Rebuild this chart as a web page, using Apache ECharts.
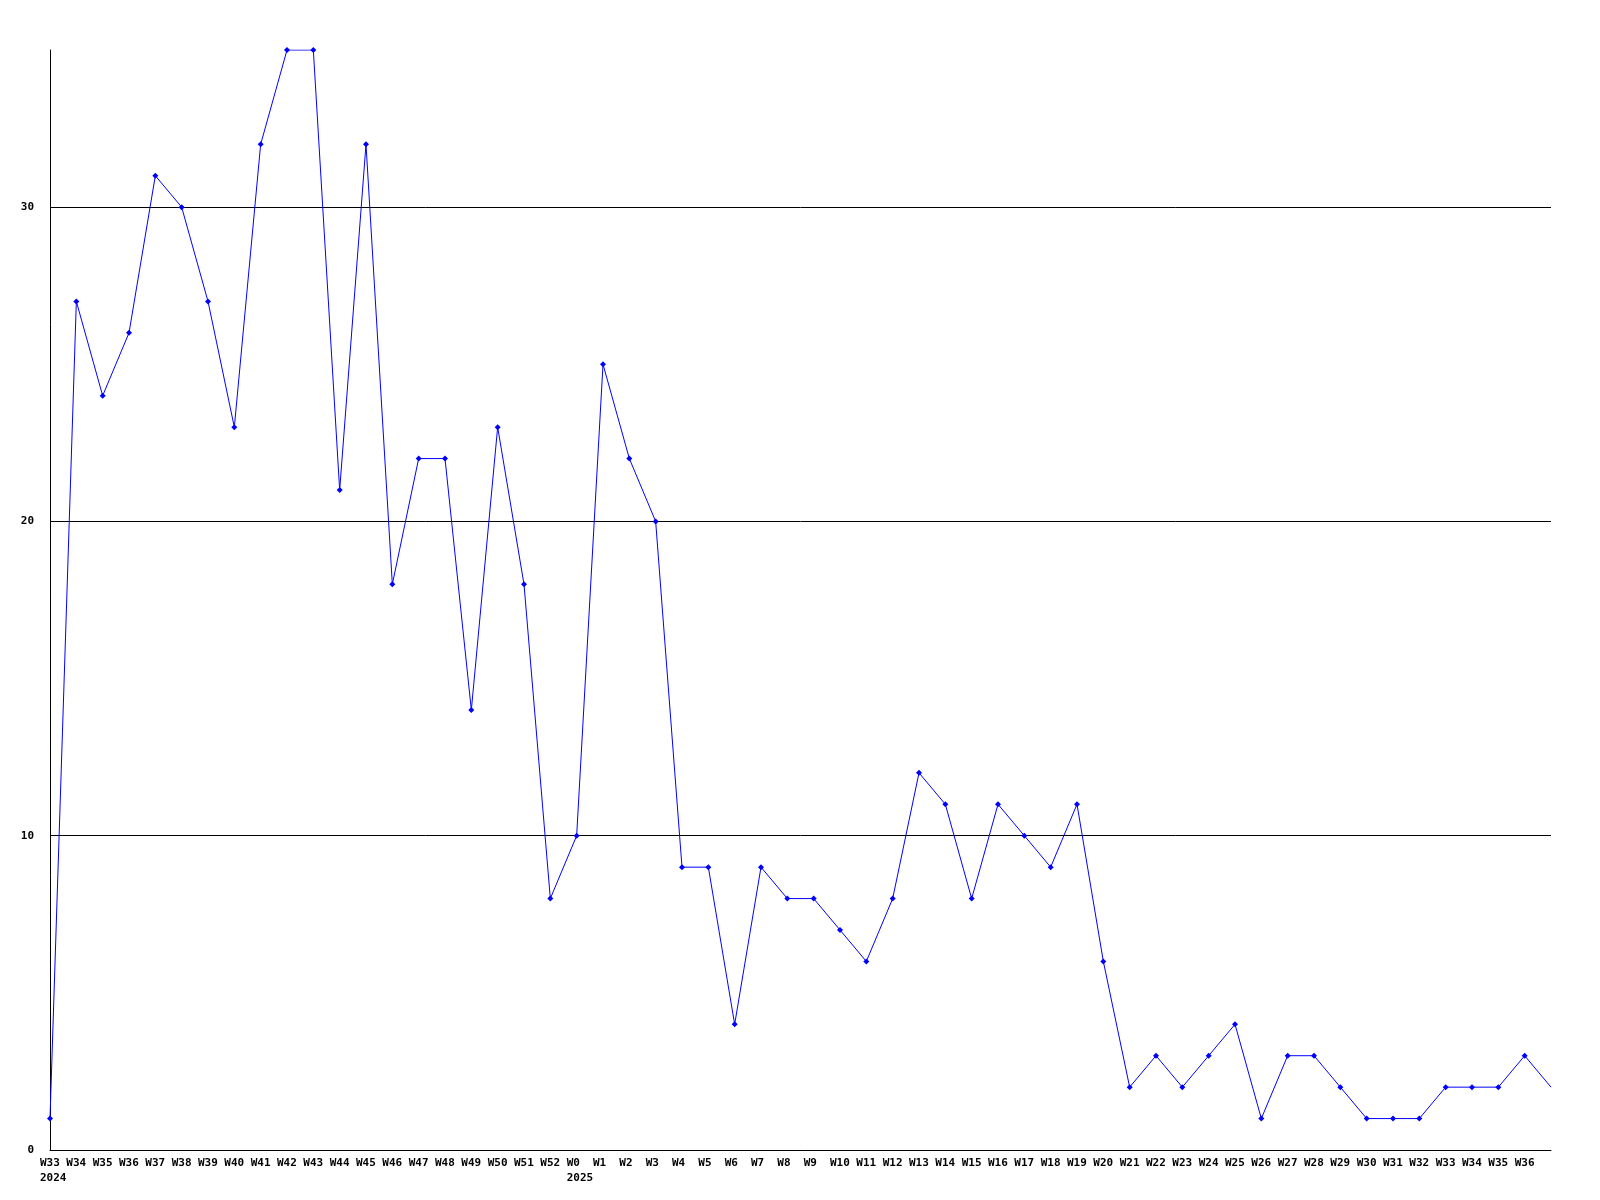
<!DOCTYPE html>
<html><head><meta charset="utf-8">
<script src="https://cdn.jsdelivr.net/npm/echarts@6/dist/echarts.min.js"></script>
<style>html,body{margin:0;padding:0;background:#fff}#c{width:1600px;height:1200px}</style>
</head><body><div id="c"></div>
<script>
const weeks = ['W33','W34','W35','W36','W37','W38','W39','W40','W41','W42','W43','W44','W45','W46','W47','W48','W49','W50','W51','W52',
  'W0','W1','W2','W3','W4','W5','W6','W7','W8','W9','W10','W11','W12','W13','W14','W15','W16','W17','W18','W19','W20',
  'W21','W22','W23','W24','W25','W26','W27','W28','W29','W30','W31','W32','W33','W34','W35','W36',''];
const years = {0:'2024', 20:'2025'};
const values = [1,27,24,26,31,30,27,23,32,35,35,21,32,18,22,22,14,23,18,8,
  10,25,22,20,9,9,4,9,8,8,7,6,8,12,11,8,11,10,9,11,6,
  2,3,2,3,4,1,3,3,2,1,1,1,2,2,2,3,2];
const yTicks = [0,10,20,30];

const chart = echarts.init(document.getElementById('c'));
const font = 'DejaVu Sans Mono';
const data = values.map((v,i)=> i===values.length-1 ? {value:v, symbol:'none'} : v);
chart.setOption({
  animation:false,
  grid:{left:50,right:49,top:50,bottom:50},
  xAxis:{
    type:'category', data:weeks.map((w,i)=>i), boundaryGap:false,
    axisLine:{lineStyle:{color:'#000',width:1}},
    axisTick:{show:false},
    splitLine:{show:false},
    axisLabel:{
      interval:0, margin:6, color:'#000', fontFamily:font, fontWeight:'bold', fontSize:11,
      align:'center',
      formatter:(v)=>{ const i=+v; const w=weeks[i]; if(!w) return '';
        return years[i] ? '{a|'+w+'}\n{a|'+years[i]+'}' : '{a|'+w+'}'; },
      rich:{a:{width:20,align:'left',lineHeight:15,fontFamily:font,fontWeight:'bold',fontSize:11,color:'#000'}}
    }
  },
  yAxis:{
    type:'value', min:0, max:35, interval:10,
    axisLine:{show:true,lineStyle:{color:'#000',width:1}},
    axisTick:{show:false},
    splitLine:{show:true,showMaxLine:false,lineStyle:{color:'#000',width:1}},
    axisLabel:{margin:16,color:'#000',fontFamily:font,fontWeight:'bold',fontSize:11,showMaxLabel:false,
      formatter:(v)=> yTicks.includes(v) ? String(v) : ''}
  },
  series:[{
    type:'line', data:data, symbol:'diamond', symbolSize:6, showSymbol:true,
    lineStyle:{color:'#0000ff',width:1}, itemStyle:{color:'#0000ff'}
  }]
});
</script></body></html>
